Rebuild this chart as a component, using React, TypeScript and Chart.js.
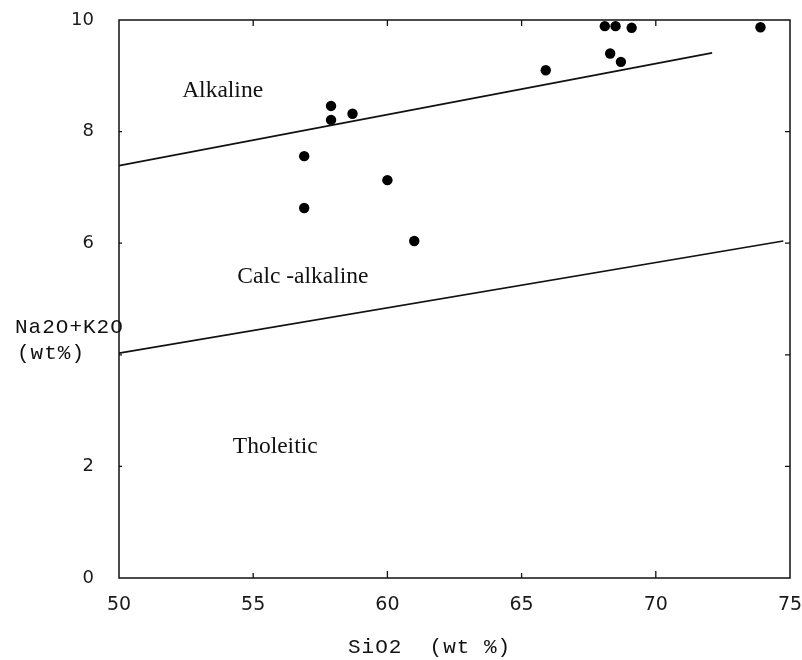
import React, { useEffect, useRef } from "react";
import { Chart, registerables } from "chart.js";

Chart.register(...registerables);

// Sample compositions: SiO2 (wt%) against total alkalis Na2O+K2O (wt%)
const SIO2 = [57.9, 57.9, 58.7, 56.9, 60.0, 56.9, 61.0, 65.9, 68.1, 68.5, 69.1, 68.3, 68.7, 73.9];
const ALKALIS = [8.46, 8.21, 8.32, 7.56, 7.13, 6.63, 6.04, 9.1, 9.89, 9.89, 9.86, 9.4, 9.25, 9.87];

// Field boundaries (end points)
const UPPER_X = [50, 72.1];
const UPPER_Y = [7.39, 9.41];
const LOWER_X = [50, 74.75];
const LOWER_Y = [4.03, 6.04];

// Field names and their anchor positions (centre x, baseline y) in data units
const FIELD_NAMES = ["Alkaline", "Calc -alkaline", "Tholeitic"];
const FIELD_X = [53.86, 56.85, 55.82];
const FIELD_Y = [8.62, 5.29, 2.24];

// Axis ranges and tick values
const X_MIN = 50;
const X_MAX = 75;
const X_STEP = 5;
const Y_MIN = 0;
const Y_MAX = 10;
const Y_STEP = 2;
const X_INNER_TICKS = [55, 60, 65, 70];
const Y_INNER_TICKS = [2, 4, 6, 8];
const Y_HIDDEN_LABEL = 4;

const X_TITLE = "SiO2  (wt %)";
const Y_TITLE = ["Na2O+K2O", "(wt%)"];

const INK = "#111";

const framePlugin = {
  id: "frame",
  afterDatasetsDraw(chart: any) {
    const { ctx, chartArea, scales } = chart;
    const { left, right, top, bottom } = chartArea;
    const xs = scales.x;
    const ys = scales.y;
    ctx.save();
    ctx.strokeStyle = INK;
    ctx.lineWidth = 1.5;
    ctx.strokeRect(left, top, right - left, bottom - top);

    ctx.lineWidth = 1.3;
    ctx.beginPath();
    X_INNER_TICKS.forEach((v, i) => {
      const px = xs.getPixelForValue(v);
      const len = i % 2 === 0 ? 5 : 7;
      ctx.moveTo(px, bottom);
      ctx.lineTo(px, bottom - len);
      ctx.moveTo(px, top);
      ctx.lineTo(px, top + 6);
    });
    Y_INNER_TICKS.forEach((v) => {
      const py = ys.getPixelForValue(v);
      ctx.moveTo(left, py);
      ctx.lineTo(left + 3, py);
      ctx.moveTo(right, py);
      ctx.lineTo(right - 5, py);
    });
    ctx.stroke();

    // field names
    ctx.fillStyle = INK;
    ctx.font = '23.5px "Liberation Serif", "Times New Roman", serif';
    ctx.textAlign = "center";
    ctx.textBaseline = "alphabetic";
    FIELD_NAMES.forEach((name, i) => {
      ctx.fillText(name, xs.getPixelForValue(FIELD_X[i]), ys.getPixelForValue(FIELD_Y[i]));
    });

    // axis titles
    ctx.font = '21px "Liberation Mono", "DejaVu Sans Mono", monospace';
    (ctx as any).letterSpacing = "1px";
    ctx.textAlign = "left";
    const p4 = ys.getPixelForValue(Y_HIDDEN_LABEL);
    ctx.fillText(Y_TITLE[0], 15, p4 - 22);
    ctx.fillText(Y_TITLE[1], 17, p4 + 4);
    ctx.fillText(X_TITLE, left + 229, bottom + 75);
    ctx.restore();
  },
};

export default function App() {
  const canvasRef = useRef<HTMLCanvasElement | null>(null);

  useEffect(() => {
    if (!canvasRef.current) return;
    const points = SIO2.map((x, i) => ({ x, y: ALKALIS[i] }));
    const upper = UPPER_X.map((x, i) => ({ x, y: UPPER_Y[i] }));
    const lower = LOWER_X.map((x, i) => ({ x, y: LOWER_Y[i] }));
    const family = '"DejaVu Sans", Verdana, sans-serif';

    const chart = new Chart(canvasRef.current, {
      type: "scatter",
      data: {
        datasets: [
          {
            type: "line",
            data: upper,
            borderColor: INK,
            borderWidth: 1.7,
            pointRadius: 0,
            fill: false,
          } as any,
          {
            type: "line",
            data: lower,
            borderColor: INK,
            borderWidth: 1.7,
            pointRadius: 0,
            fill: false,
          } as any,
          {
            type: "scatter",
            data: points,
            backgroundColor: "#000",
            borderColor: "#000",
            borderWidth: 0,
            pointRadius: 5.2,
          },
        ],
      },
      options: {
        animation: false,
        responsive: false,
        devicePixelRatio: 1,
        layout: { padding: { top: 20, right: 12, left: 0, bottom: 0 } },
        plugins: { legend: { display: false }, tooltip: { enabled: false } },
        scales: {
          x: {
            type: "linear",
            min: X_MIN,
            max: X_MAX,
            grid: { display: false, drawTicks: false },
            border: { display: false },
            ticks: {
              stepSize: X_STEP,
              padding: 16,
              maxRotation: 0,
              color: "#1a1a1a",
              font: { family, size: 19 },
            },
            afterFit: (s: any) => {
              s.height = 82;
              s.paddingLeft = 0;
              s.paddingRight = 0;
            },
          },
          y: {
            type: "linear",
            min: Y_MIN,
            max: Y_MAX,
            grid: { display: false, drawTicks: false },
            border: { display: false },
            ticks: {
              stepSize: Y_STEP,
              padding: 25,
              color: "#1a1a1a",
              font: { family, size: 18 },
              callback: (v: any) => (Number(v) === Y_HIDDEN_LABEL ? "" : String(v)),
            },
            afterFit: (s: any) => {
              s.width = 119;
              s.paddingTop = 0;
              s.paddingBottom = 0;
            },
          },
        },
      },
      plugins: [framePlugin],
    });
    return () => chart.destroy();
  }, []);

  return (
    <div style={{ position: "absolute", left: 0, top: 0, width: 802, height: 660, background: "#fff" }}>
      <canvas ref={canvasRef} width={802} height={660} />
    </div>
  );
}
